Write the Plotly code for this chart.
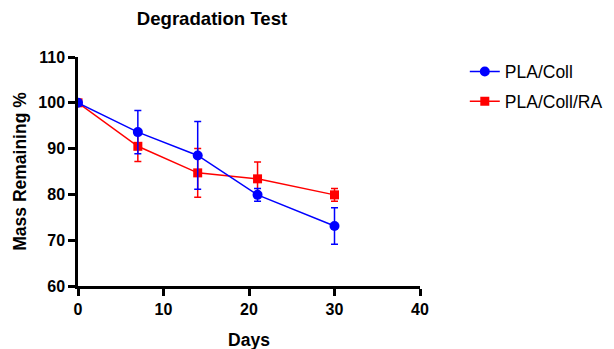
import plotly.graph_objects as go

days = [0, 7, 14, 21, 30]
pla_coll = [100, 93.6, 88.5, 79.9, 73.1]
pla_coll_err = [0, 4.7, 7.4, 1.4, 4.0]
pla_coll_ra = [100, 90.5, 84.7, 83.4, 79.9]
pla_coll_ra_err = [0, 3.3, 5.3, 3.7, 1.4]

FONT = "Liberation Sans, Arial"

fig = go.Figure()
fig.add_trace(go.Scatter(
    x=days, y=pla_coll_ra, name="PLA/Coll/RA", mode="lines+markers", legendgroup="b", legendrank=2,
    line=dict(color="#ff0000", width=1.5),
    marker=dict(symbol="square", size=9, color="#ff0000"),
    error_y=dict(type="data", array=pla_coll_ra_err, color="#ff0000", thickness=1.5, width=3.5),
))
fig.add_trace(go.Scatter(
    x=days, y=pla_coll, name="PLA/Coll", mode="lines+markers", legendgroup="a", legendrank=1,
    line=dict(color="#0000ff", width=1.5),
    marker=dict(symbol="circle", size=10, color="#0000ff"),
    error_y=dict(type="data", array=pla_coll_err, color="#0000ff", thickness=1.5, width=3.5),
))

axis_font = dict(family=FONT, size=17.5, color="black")
tick_font = dict(family=FONT, size=16, color="black")
fig.update_layout(
    width=622, height=349,
    margin=dict(l=70, r=210, t=49, b=71, autoexpand=False),
    paper_bgcolor="white", plot_bgcolor="white",
    title=dict(text="<b>Degradation Test</b>", x=204/622, xanchor="center", y=0.97, yanchor="middle",
               font=dict(family=FONT, size=18.6, color="black")),
    legend=dict(x=1.131, y=1.015, xanchor="left", yanchor="top",
                font=dict(family=FONT, size=17.5, color="black"),
                bgcolor="rgba(0,0,0,0)", tracegroupgap=4),
    showlegend=True,
)
fig.update_xaxes(range=[0, 40], tickvals=[0, 10, 20, 30, 40],
                 ticktext=["<b>0</b>", "<b>10</b>", "<b>20</b>", "<b>30</b>", "<b>40</b>"],
                 showline=True, linecolor="black", linewidth=2.5, ticks="outside", ticklen=7, tickwidth=2.5,
                 tickcolor="black", showgrid=False, zeroline=False, tickfont=tick_font,
                 title=dict(text="<b>Days</b>", font=axis_font, standoff=17))
fig.update_yaxes(range=[60, 110], tickvals=[60, 70, 80, 90, 100, 110],
                 ticktext=["<b>60</b>", "<b>70</b>", "<b>80</b>", "<b>90</b>", "<b>100</b>", "<b>110</b>"],
                 showline=True, linecolor="black", linewidth=2.5, ticks="outside", ticklen=7, tickwidth=2.5,
                 tickcolor="black", showgrid=False, zeroline=False, tickfont=tick_font,
                 title=dict(text="<b>Mass Remaining %</b>", font=axis_font, standoff=8))
fig.write_html("out.html")
